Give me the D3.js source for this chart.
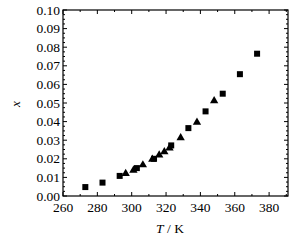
<!DOCTYPE html>
<html>
<head>
<meta charset="utf-8">
<script src="https://cdn.jsdelivr.net/npm/d3@7"></script>
<style>
  body { margin: 0; background: #fff; }
  svg text { font-family: "Liberation Serif", "DejaVu Serif", serif; fill: #000; }
</style>
</head>
<body>
<div id="chart"></div>
<script>
// squares
var sqT = [273, 283, 293, 303, 313, 323, 333, 343, 353, 363, 373];
var sqX = [0.0048, 0.0072, 0.0108, 0.0150, 0.0200, 0.0272, 0.0365, 0.0455, 0.0550, 0.0655, 0.0765];
// triangles
var triT = [296.5, 301, 306.5, 312, 316, 319, 322, 328.5, 338, 348];
var triX = [0.0120, 0.0138, 0.0167, 0.0197, 0.0220, 0.0238, 0.0258, 0.0313, 0.0396, 0.0512];

var xTicks = [260, 280, 300, 320, 340, 360, 380];
var yTicks = [0, 0.01, 0.02, 0.03, 0.04, 0.05, 0.06, 0.07, 0.08, 0.09, 0.10];

var width = 305, height = 242;
// plot box (named so they don't clash with window.top)
var boxL = 63, boxR = 288, boxT = 10, boxB = 196;

var svg = d3.select("#chart")
    .append("svg")
    .attr("width", width)
    .attr("height", height);

var x = d3.scaleLinear().domain([260, 391]).range([boxL, boxR]);
var y = d3.scaleLinear().domain([0, 0.10]).range([boxB, boxT]);

// frame
svg.append("rect")
    .attr("x", boxL).attr("y", boxT)
    .attr("width", boxR - boxL).attr("height", boxB - boxT)
    .attr("fill", "none").attr("stroke", "#000").attr("stroke-width", 1.2);

// minor + major ticks, pointing inward on all four sides
var xMinor = d3.range(260, 391, 10);
var yMinor = d3.range(0, 0.1001, 0.0025);

xMinor.forEach(function (t) {
    var len = (t % 20 === 0) ? 4 : 2;
    svg.append("line").attr("x1", x(t)).attr("x2", x(t))
        .attr("y1", boxB).attr("y2", boxB - len).attr("stroke", "#000");
    svg.append("line").attr("x1", x(t)).attr("x2", x(t))
        .attr("y1", boxT).attr("y2", boxT + len).attr("stroke", "#000");
});
yMinor.forEach(function (v, i) {
    var len = (i % 4 === 0) ? 4 : 2;
    svg.append("line").attr("x1", boxL).attr("x2", boxL + len)
        .attr("y1", y(v)).attr("y2", y(v)).attr("stroke", "#000");
    svg.append("line").attr("x1", boxR).attr("x2", boxR - len)
        .attr("y1", y(v)).attr("y2", y(v)).attr("stroke", "#000");
});

// tick labels
svg.selectAll(".xl")
    .data(xTicks)
    .enter()
    .append("text")
    .attr("x", function (d) { return x(d); })
    .attr("y", boxB + 16)
    .attr("text-anchor", "middle")
    .style("font-size", "13.5px")
    .text(function (d) { return d; });

svg.selectAll(".yl")
    .data(yTicks)
    .enter()
    .append("text")
    .attr("x", boxL - 3)
    .attr("y", function (d) { return y(d) + 4.5; })
    .attr("text-anchor", "end")
    .style("font-size", "13.5px")
    .text(function (d) { return d.toFixed(2); });

// axis titles
svg.append("text")
    .attr("transform", "translate(20,104)rotate(-90)")
    .attr("text-anchor", "middle")
    .style("font-size", "13px")
    .style("font-style", "italic")
    .text("x");

var xt = svg.append("text")
    .attr("x", 170).attr("y", 233)
    .attr("text-anchor", "middle")
    .style("font-size", "13.5px");
xt.append("tspan").style("font-style", "italic").text("T");
xt.append("tspan").text(" / K");

// squares
var s = 6;
svg.selectAll(".sq")
    .data(sqT)
    .enter()
    .append("rect")
    .attr("x", function (d) { return x(d) - s / 2; })
    .attr("y", function (d, i) { return y(sqX[i]) - s / 2; })
    .attr("width", s).attr("height", s)
    .attr("fill", "#000");

// triangles
var tri = d3.symbol().type(d3.symbolTriangle).size(30);
svg.selectAll(".tri")
    .data(triT)
    .enter()
    .append("path")
    .attr("d", tri)
    .attr("transform", function (d, i) { return "translate(" + x(d) + "," + y(triX[i]) + ")"; })
    .attr("fill", "#000");
</script>
</body>
</html>
